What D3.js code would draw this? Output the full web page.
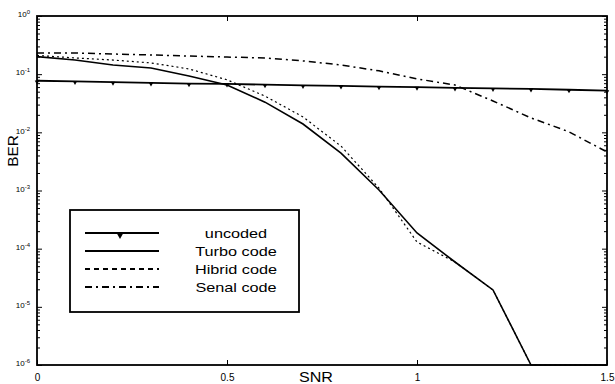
<!DOCTYPE html>
<html>
<head>
<meta charset="utf-8">
<script src="https://cdn.jsdelivr.net/npm/d3@7"></script>
<style>
  body { margin: 0; background: #fff; }
  svg { font-family: "Liberation Sans", Arial, sans-serif; }
</style>
</head>
<body>
<svg id="chart" width="615" height="384"></svg>
<script>
// SNR values (x) shared by all curves
const snr = [0, 0.1, 0.2, 0.3, 0.4, 0.5, 0.6, 0.7, 0.8, 0.9, 1.0, 1.1, 1.2, 1.3, 1.4, 1.5];

// BER
const uncoded = [0.077, 0.075, 0.073, 0.071, 0.069, 0.068, 0.066, 0.064, 0.063, 0.061, 0.060, 0.058, 0.057, 0.056, 0.054, 0.052];
const turbo   = [0.20, 0.175, 0.144, 0.128, 0.093, 0.065, 0.033, 0.0139, 0.0044, 0.00102, 0.000186, 0.000059, 0.0000195, 0.000001, 0.000001, 0.000001];
const hibrid  = [0.21, 0.19, 0.175, 0.156, 0.123, 0.080, 0.042, 0.0184, 0.0058, 0.0011, 0.00013, 0.000059, 0.0000195, 0.000001, 0.000001, 0.000001];
const serial  = [0.231, 0.231, 0.222, 0.214, 0.205, 0.197, 0.19, 0.169, 0.144, 0.114, 0.083, 0.065, 0.0346, 0.0177, 0.0102, 0.0046];

const legendLabels = ["uncoded", "Turbo code", "Hibrid code", "Senal code"];
const xTicks = [0, 0.5, 1, 1.5];
const yTicks = [1e-6, 1e-5, 1e-4, 1e-3, 1e-2, 1e-1, 1];

const svg = d3.select("#chart");
const mLeft = 37, mRight = 607, mTop = 16, mBottom = 365;

const x = d3.scaleLinear().domain([0, 1.5]).range([mLeft, mRight]);
const y = d3.scaleLog().domain([1e-6, 1]).range([mBottom, mTop]);

// minor log ticks
const minor = [];
for (let e = -6; e < 0; e++) for (let m = 2; m <= 9; m++) minor.push(m * Math.pow(10, e));

// axes with inward ticks (MATLAB style)
svg.append("g").attr("transform", `translate(0,${mBottom})`)
  .call(d3.axisBottom(x).tickValues(xTicks).tickSize(-5).tickPadding(9).tickFormat(d3.format("")))
  .call(g => g.select(".domain").remove())
  .call(g => g.selectAll("text").attr("font-size", 10).attr("font-family", "Liberation Sans"));

svg.append("g").attr("transform", `translate(0,${mTop})`)
  .call(d3.axisTop(x).tickValues(xTicks).tickSize(-5).tickFormat(""))
  .call(g => g.select(".domain").remove());

svg.append("g").attr("transform", `translate(${mLeft},0)`)
  .call(d3.axisLeft(y).tickValues(yTicks).tickSize(-5).tickPadding(8).tickFormat(""))
  .call(g => g.select(".domain").remove())
  .call(g => g.selectAll(".tick").each(function(d) {
    const t = d3.select(this).append("text")
      .attr("x", -7).attr("dy", "0.1em").attr("text-anchor", "end")
      .attr("font-size", 8).attr("fill", "#000");
    t.append("tspan").text("10");
    t.append("tspan").attr("dy", "-0.5em").attr("font-size", 6).text(Math.round(Math.log10(d)));
  }));

svg.append("g").attr("transform", `translate(${mLeft},0)`)
  .call(d3.axisLeft(y).tickValues(minor).tickSize(-3).tickFormat(""))
  .call(g => g.select(".domain").remove());

svg.append("g").attr("transform", `translate(${mRight},0)`)
  .call(d3.axisRight(y).tickValues(yTicks).tickSize(-5).tickFormat(""))
  .call(g => g.select(".domain").remove());

svg.append("g").attr("transform", `translate(${mRight},0)`)
  .call(d3.axisRight(y).tickValues(minor).tickSize(-3).tickFormat(""))
  .call(g => g.select(".domain").remove());

svg.selectAll(".tick line").attr("stroke", "#000");

// curves
const line = d3.line().x((d, i) => x(snr[i])).y(d => y(d));

const series = [
  { data: uncoded, dash: null, width: 1.8 },
  { data: turbo, dash: null, width: 1.6 },
  { data: hibrid, dash: "2,3", width: 1.2 },
  { data: serial, dash: "7,4,2,4", width: 1.5 }
];

series.forEach(s => {
  svg.append("path").datum(s.data)
    .attr("d", line)
    .attr("fill", "none")
    .attr("stroke", "#000")
    .attr("stroke-width", s.width)
    .attr("stroke-dasharray", s.dash);
});

// uncoded markers
const tri = d3.symbol().type(d3.symbolTriangle).size(9);
svg.append("g").selectAll("path")
  .data(uncoded)
  .join("path")
  .attr("d", tri)
  .attr("transform", (d, i) => `translate(${x(snr[i])},${y(d) + 1}) rotate(180)`)
  .attr("fill", "#000");

// frame
svg.append("rect")
  .attr("x", mLeft).attr("y", mTop)
  .attr("width", mRight - mLeft).attr("height", mBottom - mTop)
  .attr("fill", "none").attr("stroke", "#000").attr("stroke-width", 1.8);

// axis labels
svg.append("text").attr("transform", "translate(316,382) scale(1.15,1)").attr("text-anchor", "middle")
  .attr("font-size", 14).text("SNR");
svg.append("text").attr("transform", "translate(18,151) rotate(-90) scale(1.1,1)").attr("text-anchor", "middle")
  .attr("font-size", 14).text("BER");

// legend
const lg = svg.append("g");
lg.append("rect").attr("x", 70).attr("y", 210).attr("width", 229).attr("height", 102)
  .attr("fill", "#fff").attr("stroke", "#000").attr("stroke-width", 1.8);

legendLabels.forEach((lab, i) => {
  const ly = 233 + i * 18;
  lg.append("line").attr("x1", 85).attr("x2", 159).attr("y1", ly).attr("y2", ly)
    .attr("stroke", "#000").attr("stroke-width", 1.8)
    .attr("stroke-dasharray", i === 2 ? "5,4" : series[i].dash);
  if (i === 0) {
    lg.append("path").attr("d", d3.symbol().type(d3.symbolTriangle).size(20))
      .attr("transform", `translate(120,${ly + 2}) rotate(180)`).attr("fill", "#000");
  }
  lg.append("text").attr("transform", `translate(236,${ly + 5}) scale(1.25,1)`).attr("text-anchor", "middle")
    .attr("font-size", 13).text(lab);
});
</script>
</body>
</html>
